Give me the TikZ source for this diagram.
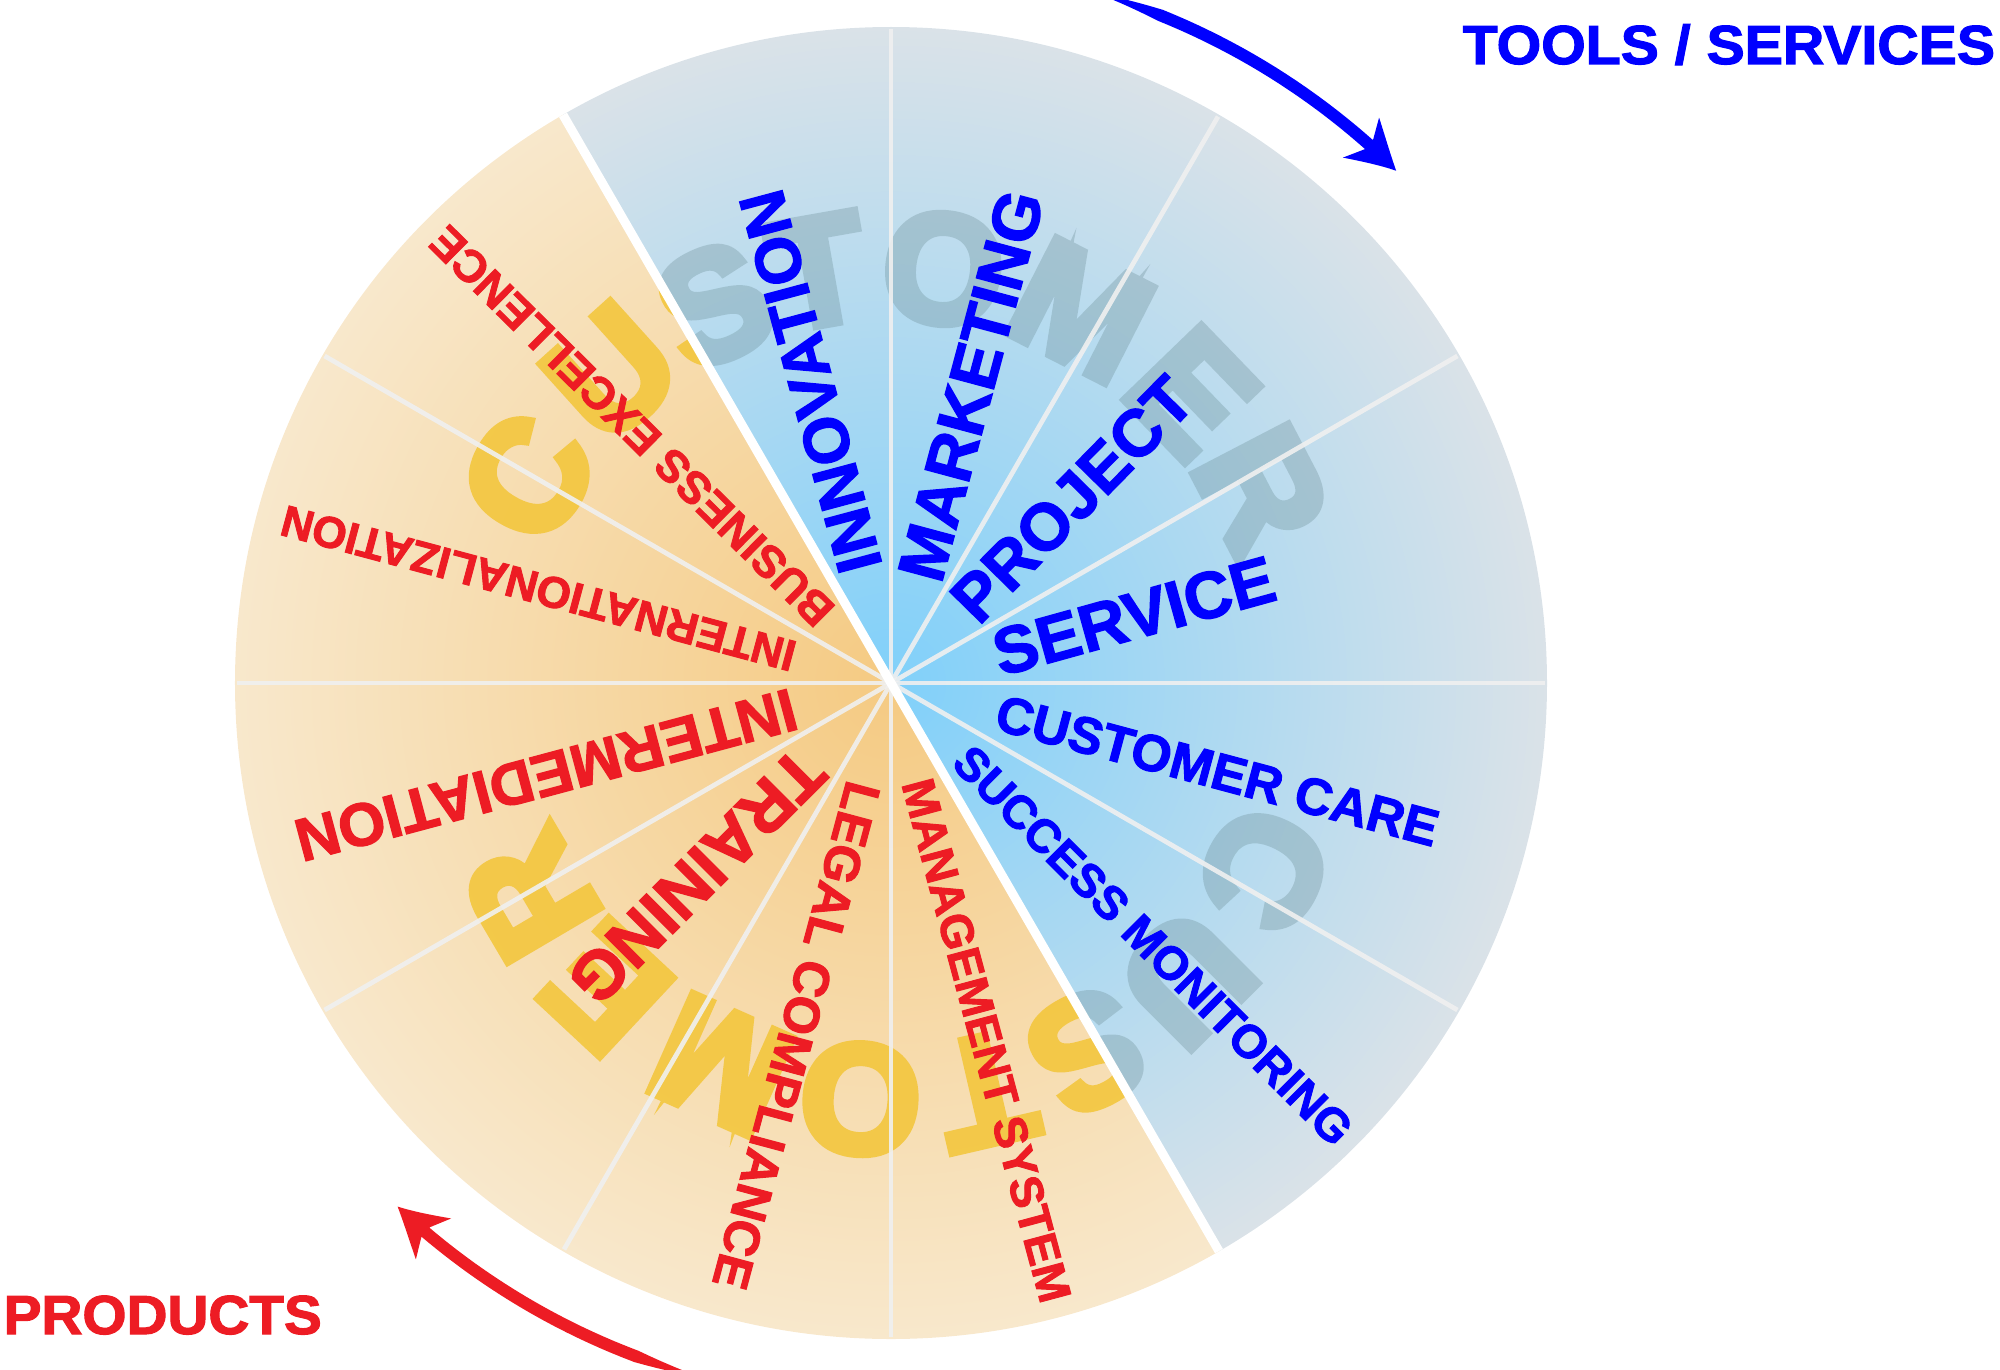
\documentclass[tikz,border=0pt]{standalone}
\usepackage{fontspec}
\setmainfont{Liberation Sans}
\newfontfamily\hvb{Liberation Sans}[BoldFeatures={FakeBold=2}]
\newfontfamily\hvk{Liberation Sans}[UprightFont={* Bold}, FakeBold=5.5]
\definecolor{lblred}{RGB}{237,28,36}
\definecolor{lblblue}{RGB}{0,0,255}
\definecolor{bin}{RGB}{128,208,250}
\definecolor{bout}{RGB}{218,226,232}
\definecolor{oin}{RGB}{245,202,130}
\definecolor{oout}{RGB}{248,232,204}
\definecolor{ltrgray}{RGB}{106,140,147}
\definecolor{ltryel}{RGB}{243,196,50}
\definecolor{spokec}{RGB}{240,240,240}
\tikzset{
  lbl/.style={inner sep=0pt, text depth=0pt, anchor=center},
  bgl/.style={inner sep=0pt, text depth=0pt, anchor=center, font=\fontsize{44}{44}\selectfont\hvk},
  spokeln/.style={draw=spokec, line width=0.047cm, draw opacity=0.9},
  divider/.style={draw=white, line width=0.09cm},
  title/.style={anchor=base west, inner sep=0pt, font=\fontsize{15.65}{15.65}\selectfont\hvb\bfseries}
}
\newcommand\seclabel[6]{%
  \node[lbl, text=#2, font=\fontsize{#3}{#3}\selectfont\hvb\bfseries, rotate=#4] (#1) at (#4:#5) {#6};}
\newcommand\bgword[3]{%
  \foreach \ch/\ang in {C/150.5,U/132,S/115,T/100,O/82.8,M/63,E/44,R/27.5}{%
    \node[bgl, text=#3, rotate=\ang+#2-90, name=#1\ch] at ({\ang+#2}:418) {\ch};}}
\newcommand\swoosh[2]{%
  \fill[#2, rotate=#1] plot[domain=73:48.4, samples=60] (\x:{720+0.5*min(12,1+2.2*(73-\x))})
    -- (49.2:747)
    .. controls (47.9:737) and (46.6:727) .. (45.4:719.5)
    .. controls (46.6:712.5) and (47.9:703) .. (49.3:693)
    -- (48.4:714)
    -- plot[domain=48.4:73, samples=60] (\x:{720-0.5*min(12,1+2.2*(73-\x))})
    -- cycle;}
\begin{document}
\begin{tikzpicture}[x=0.01cm, y=0.01cm]
\useasboundingbox (-891,-686) rectangle (1109,683);
% blue half
\begin{scope}
  \clip (0,0) circle (656);
  \clip[rotate=30] (0,-800) rectangle (800,800);
  \shade[inner color=bin, outer color=bout] (0,0) circle (656);
  \begin{scope}[transparency group, opacity=0.32, line join=round]
    \bgword{gA}{0}{ltrgray}
    \bgword{gB}{183}{ltrgray}
  \end{scope}
\end{scope}
% orange half
\begin{scope}
  \clip (0,0) circle (656);
  \clip[rotate=30] (-800,-800) rectangle (0,800);
  \shade[inner color=oin, outer color=oout] (0,0) circle (656);
  \begin{scope}[transparency group, opacity=0.82, line join=round]
    \bgword{yA}{0}{ltryel}
    \bgword{yB}{183}{ltryel}
  \end{scope}
\end{scope}
% spokes
\coordinate (ctr) at (0,0);
\foreach \a in {0,30,60,90,150,180,210,240,270,330}
  \draw[spokeln] (ctr) -- (\a:654);
\draw[divider] (120:656) -- (300:656);
% sector labels
\seclabel{innov}{lblblue}{18.2}{105}{312}{INNOVATION}
\seclabel{mark}{lblblue}{18.8}{75}{308}{MARKETING}
\seclabel{proj}{lblblue}{18.8}{45.5}{258}{PROJECT}
\seclabel{serv}{lblblue}{18.8}{15.5}{252}{SERVICE}
\seclabel{care}{lblblue}{14.7}{-15}{338}{CUSTOMER CARE}
\seclabel{succ}{lblblue}{13.3}{-45}{371}{SUCCESS MONITORING}
\seclabel{mgmt}{lblred}{13.15}{-75}{370}{MANAGEMENT SYSTEM}
\seclabel{legal}{lblred}{14.3}{255}{365}{LEGAL COMPLIANCE}
\seclabel{train}{lblred}{19.35}{225}{274}{TRAINING}
\seclabel{inter}{lblred}{17.2}{195}{357}{INTERMEDIATION}
\seclabel{intl}{lblred}{12.55}{165}{365}{INTERNATIONALIZATION}
\seclabel{busi}{lblred}{12.83}{135.3}{365}{BUSINESS EXCELLENCE}
% arrows
\swoosh{0}{lblblue}
\swoosh{181.3}{lblred}
% titles
\node[title, text=lblblue, xscale=1.04] (tools) at (571,619) {TOOLS / SERVICES};
\node[title, text=lblred, xscale=1.03] (prod) at (-888,-651) {PRODUCTS};
\end{tikzpicture}
\end{document}
